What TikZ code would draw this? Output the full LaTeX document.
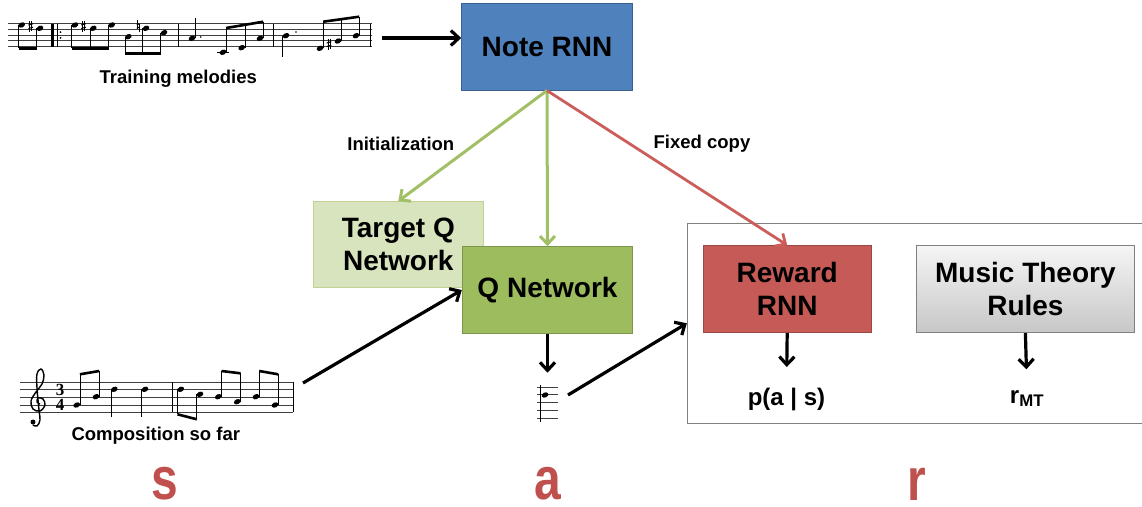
\documentclass[tikz,border=0pt]{standalone}
\usepackage{fontspec}
\setmainfont{Liberation Sans}
\setsansfont{Liberation Sans}
\newfontfamily\meterfont{Liberation Serif}
\newfontfamily\mdpfont{Liberation Sans}[FakeStretch=0.8]
\usetikzlibrary{arrows.meta}
\usetikzlibrary{calc}
\definecolor{noteblue}{HTML}{4F81BD}
\definecolor{tqgreen}{HTML}{D7E4BD}
\definecolor{qgreen}{HTML}{9DBC5E}
\definecolor{rwred}{HTML}{C55A56}
\definecolor{initc}{HTML}{A1C066}
\definecolor{copyc}{HTML}{CB5D5A}
\definecolor{mdpred}{HTML}{C0504D}
\colorlet{frame}{black!50}
\newcommand{\nhd}[2]{\fill (#1,#2) circle [x radius=3.5pt, y radius=2.5pt, rotate=25];}
\newcommand{\shrp}[2]{%
  \draw[line width=0.5pt] ({#1-1},{#2-5}) -- ({#1-1},{#2+5.5})
                          ({#1+1},{#2-5.5}) -- ({#1+1},{#2+5});
  \draw[line width=1.1pt] ({#1-2.3},{#2-1}) -- ({#1+2.3},{#2-2.3})
                          ({#1-2.3},{#2+2.5}) -- ({#1+2.3},{#2+1.2});}
\newcommand{\ntrl}[2]{%
  \draw[line width=0.5pt] ({#1-1.2},{#2-6}) -- ({#1-1.2},{#2+2.5})
                          ({#1+1.2},{#2-2.5}) -- ({#1+1.2},{#2+6});
  \draw[line width=1.1pt] ({#1-1.2},{#2-1.2}) -- ({#1+1.2},{#2-2.2})
                          ({#1-1.2},{#2+2.2}) -- ({#1+1.2},{#2+1.2});}
\tikzset{netbox/.style={
  draw,
  line width=1pt,
  align=center,
  inner sep=0pt,
  font=\fontsize{28}{33}\selectfont\bfseries
}}
\tikzset{lbl/.style={inner sep=0pt, font=\fontsize{18.5}{22}\selectfont\bfseries}}
\tikzset{outv/.style={inner sep=0pt, font=\fontsize{24}{28}\selectfont\bfseries}}
\tikzset{mdp/.style={inner sep=3pt, text=mdpred, font=\mdpfont\fontsize{60}{60}\selectfont\bfseries}}
\tikzset{flow/.style={line width=3.2pt, -{Straight Barb[length=8pt,width=15pt]}}}
\tikzset{initf/.style={flow, draw=initc, line width=3pt}}
\tikzset{copyf/.style={flow, draw=copyc, line width=2.8pt}}
\tikzset{stf/.style={line width=0.6pt, black!75}}
\tikzset{stm/.style={line width=0.8pt}}
\tikzset{beam/.style={line width=2.6pt}}

\begin{document}
\begin{tikzpicture}[x=1pt,y=-1pt]
    \useasboundingbox (0,0) rectangle (1142,506);
    \clip (0,0) rectangle (1142,506);

    % Reward area
    \node[draw=frame, line width=1pt, minimum width=470pt, minimum height=200pt,
          inner sep=0pt] (rewardarea) at (922.3,323.3) {};

    % Networks
    \node[netbox, fill=noteblue, draw=noteblue!75!black,
          minimum width=170.6pt, minimum height=86.7pt] (noternn) at (547,46.7) {Note RNN};
    \node[netbox, fill=tqgreen, draw=tqgreen!80!olive,
          minimum width=170pt, minimum height=86pt] (targetq) at (398.3,244.7) {Target Q\\Network};
    \node[netbox, fill=qgreen, draw=qgreen!80!black,
          minimum width=170.4pt, minimum height=86.6pt] (qnet) at (547.5,290) {Q Network};
    \node[netbox, fill=rwred, draw=rwred!80!black,
          minimum width=167.7pt, minimum height=87pt] (rewardrnn) at (787.2,289.2) {Reward\\RNN};
    \node[netbox, top color=black!4, bottom color=black!22, draw=black!50,
          minimum width=217.3pt, minimum height=87pt] (mtrules) at (1025.4,289.2) {Music Theory\\Rules};

    % Texts
    \node[lbl] (trainlbl) at (178.3,78.5) {Training melodies};
    \node[lbl] (complbl) at (155.8,436) {Composition so far};
    \node[lbl] (initlbl) at (400.8,143.5) {Initialization};
    \node[lbl] (copylbl) at (702,144) {Fixed copy};
    \node[outv, anchor=north] (pas) at (786.5,388) {p(a | s)};
    \node[outv, anchor=north] (rmt) at (1027,390) {r\textsubscript{MT}};
    \node[mdp] (ls) at (165,484) {s};
    \node[mdp] (la) at (548,484) {a};
    \node[mdp] (lr) at (917,484) {r};

    % Training melodies staff
    \foreach \k in {0,...,4}
      \draw[stf] (8,{23.5+5.75*\k}) -- (372,{23.5+5.75*\k});
    \draw[line width=3pt] (52.5,23.5) -- (52.5,46.5);
    \draw[line width=0.7pt] (57,23.5) -- (57,46.5);
    \fill (60.5,32.1) circle [radius=1pt] (60.5,37.9) circle [radius=1pt];
    \foreach \bx in {178,273,370}
      \draw[line width=0.7pt] (\bx,23.5) -- (\bx,46.5);
    \foreach \hx/\hy in {21.7/25, 40/28.3, 75/25, 93.3/28.3, 111.7/25}
      {\nhd{\hx}{\hy} \draw[stm] ({\hx-3.2},\hy) -- ({\hx-3.2},48.3);}
    \foreach \hx/\hy in {128.3/36.7, 146/28.3, 164/32.7}
      {\nhd{\hx}{\hy} \draw[stm] ({\hx-3.2},\hy) -- ({\hx-3.2},53.3);}
    \draw[beam] (18.5,48.3) -- (36.8,48.3);
    \draw[beam] (71.8,48.3) -- (108.5,48.3);
    \draw[beam] (125.1,53.3) -- (160.8,53.3);
    \shrp{30.7}{26} \shrp{83.5}{26} \ntrl{138}{26}
    \nhd{192}{38.3} \draw[stm] (195.2,38.3) -- (195.2,18);
    \fill (200.7,37) circle [radius=0.9pt];
    \draw[stm] (217,52.25) -- (229,52.25);
    \nhd{223}{52.25} \nhd{241.7}{47.7} \nhd{260}{38.3}
    \draw[stm] (226.2,52.25) -- (226.2,28) (244.9,47.7) -- (244.9,24.8)
               (263.2,38.3) -- (263.2,21.7);
    \draw[beam] (226.2,28) -- (263.2,21.7);
    \nhd{286}{35.7} \draw[stm] (282.8,35.7) -- (282.8,56.7);
    \fill (296,32) circle [radius=0.9pt];
    \nhd{320}{48.3} \nhd{338}{41} \nhd{356}{35.7}
    \draw[stm] (323.2,48.3) -- (323.2,21.7) (341.2,41) -- (341.2,19.2)
               (359.2,35.7) -- (359.2,16.7);
    \draw[beam] (323.2,21.7) -- (359.2,16.7);
    \shrp{329}{44}

    % Composition staff
    \foreach \k in {0,...,4}
      \draw[stf] (20,{382+7.6*\k}) -- (293.3,{382+7.6*\k});
    \foreach \bx in {172.3,293.3}
      \draw[line width=0.7pt] (\bx,382) -- (\bx,412.4);
    \draw[line width=1.4pt] plot[smooth, tension=0.6] coordinates {
      (40,404) (37,402) (38,398) (43,399) (45,405) (40,411) (33,409) (31,401)
      (36,392) (42,384) (44,375) (41,369) (37,374) (37,388) (39,410) (40,420)
      (37,426) (33,425)};
    \fill (33,422) circle [radius=2.5pt];
    \node[inner sep=0pt, font=\meterfont\fontsize{17}{17}\selectfont\bfseries] (mtop) at (60,389.6) {3};
    \node[inner sep=0pt, font=\meterfont\fontsize{17}{17}\selectfont\bfseries] (mbot) at (60,404.8) {4};
    \foreach \hx/\hy/\ey in {76.7/405/374.3, 96/396.7/371, 218.3/396.7/371,
                             237.3/401.7/373.3, 256/396.7/371, 275/405/374.3}
      {\nhd{\hx}{\hy} \draw[stm] ({\hx+3.2},\hy) -- ({\hx+3.2},\ey);}
    \foreach \hx/\hy/\ey in {114.3/389.3/416.7, 145/389.3/416.7,
                             180.7/389.3/414.3, 200/394.3/419.3}
      {\nhd{\hx}{\hy} \draw[stm] ({\hx-3.2},\hy) -- ({\hx-3.2},\ey);}
    \draw[beam] (79.9,374.3) -- (99.2,371);
    \draw[beam] (177.5,414.3) -- (196.8,419.3);
    \draw[beam] (221.5,371) -- (240.5,373.3);
    \draw[beam] (259.2,371) -- (278.2,374.3);

    % Chosen note
    \foreach \k in {0,...,4}
      \draw[stf] (537,{387+7.75*\k}) -- (558,{387+7.75*\k});
    \draw[stm] (540.5,385) -- (540.5,422);
    \nhd{545}{395}

    % Connectors
    \coordinate (trainout) at (381.7,38);
    \coordinate (compout) at (303,383);
    \coordinate (actin) at (547.5,372.7);
    \coordinate (actout) at (568,395);
    \draw[flow] (trainout) -- (trainout -| noternn.west);
    \draw[initf] (noternn.south) -- (targetq.north);
    \draw[initf] (noternn.south) -- (qnet.north);
    \draw[copyf] (noternn.south) -- (rewardrnn.north);
    \draw[flow] (compout) -- (qnet.west);
    \draw[flow] (qnet.south) -- (actin);
    \draw[flow] (actout) -- (rewardarea.west);
    \draw[flow, shorten >=21pt] (rewardrnn.south) -- (pas.north);
    \draw[flow, shorten >=20.7pt] (mtrules.south) -- (rmt.north);

  \end{tikzpicture}
\end{document}
